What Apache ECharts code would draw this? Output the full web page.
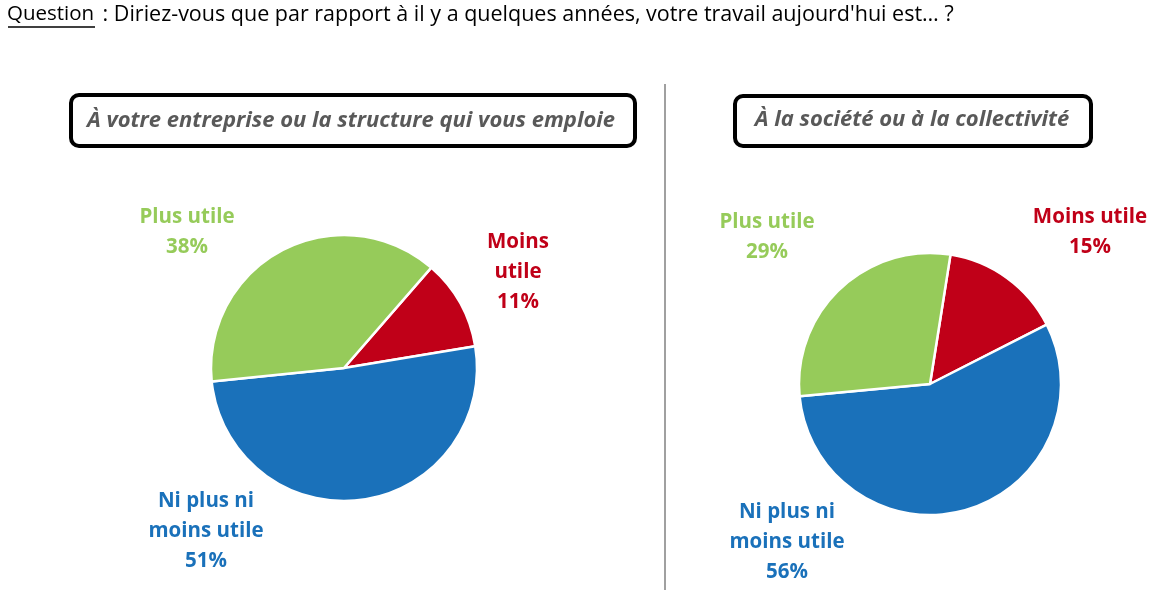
<!DOCTYPE html>
<html>
<head>
<meta charset="utf-8">
<script src="https://cdn.jsdelivr.net/npm/echarts@6/dist/echarts.min.js"></script>
<style>
  html, body { margin: 0; padding: 0; background: #fff; }
  #chart { width: 1170px; height: 590px; }
</style>
</head>
<body>
<div id="chart"></div>
<script>
var categories = ['Moins utile', 'Ni plus ni moins utile', 'Plus utile'];
var entrepriseValues = [11, 51, 38];
var societeValues = [15, 56, 29];
var leftLabels = ['Moins\nutile', 'Ni plus ni\nmoins utile', 'Plus utile'];
var rightLabels = ['Moins utile', 'Ni plus ni\nmoins utile', 'Plus utile'];
var colors = ['#C00018', '#1A71BA', '#96CB5A'];
var question = "Diriez-vous que par rapport à il y a quelques années, votre travail aujourd'hui est… ?";
var panelTitles = ['À votre entreprise ou la structure qui vous emploie', 'À la société ou à la collectivité'];

var myChart = echarts.init(document.getElementById('chart'));
var FONT = '"Open Sans", Lato, sans-serif';

function buildData(values) {
    var data = [];
    for (var i = 0; i < values.length; i++) {
        data.push({ name: categories[i], value: values[i], itemStyle: { color: colors[i] } });
    }
    return data;
}

// label anchor positions (centre of each text block)
var leftLabelPos = [[518, 272], [206, 531], [187, 232]];
var rightLabelPos = [[1090, 232], [787, 542], [767, 237]];

function makePie(values, labels, center, radius, startAngle, labelPos) {
    return {
        type: 'pie',
        center: center,
        radius: radius,
        startAngle: startAngle,
        clockwise: true,
        animation: false,
        data: buildData(values),
        itemStyle: { borderColor: '#fff', borderWidth: 2.5 },
        label: {
            show: true,
            position: 'inside',
            formatter: function (p) {
                return labels[p.dataIndex] + '\n' + p.value + '%';
            },
            color: 'inherit',
            fontFamily: FONT,
            fontWeight: 'bold',
            fontSize: 20.5,
            lineHeight: 30,
            align: 'center',
            overflow: 'none'
        },
        labelLine: { show: false },
        labelLayout: function (p) {
            var pos = labelPos[p.dataIndex];
            return { x: pos[0], y: pos[1], align: 'center', verticalAlign: 'middle' };
        },
        emphasis: { disabled: true }
    };
}

var option = {
    backgroundColor: '#fff',
    graphic: [
        {
            type: 'text', left: 7, top: 4,
            style: { text: 'Question', fontFamily: FONT, fontSize: 20.5, fill: '#000' }
        },
        {
            type: 'line', shape: { x1: 8, y1: 27, x2: 95, y2: 27 },
            style: { stroke: '#000', lineWidth: 1.3 }
        },
        {
            type: 'text', left: 97, top: 4,
            style: { text: ' : ' + question, fontFamily: FONT, fontSize: 21.5, fill: '#000' }
        },
        {
            type: 'line', shape: { x1: 665, y1: 84, x2: 665, y2: 590 },
            style: { stroke: '#808080', lineWidth: 1.5 }
        },
        {
            type: 'rect', shape: { x: 71, y: 95, width: 564, height: 51, r: 8 },
            style: { fill: '#fff', stroke: '#000', lineWidth: 4 }
        },
        {
            type: 'text', x: 351, y: 121,
            style: {
                text: panelTitles[0], fontFamily: FONT, fontSize: 22, fontWeight: 'bold',
                fontStyle: 'italic', fill: '#595959', align: 'center', verticalAlign: 'middle'
            }
        },
        {
            type: 'rect', shape: { x: 735, y: 96, width: 356, height: 50, r: 8 },
            style: { fill: '#fff', stroke: '#000', lineWidth: 4 }
        },
        {
            type: 'text', x: 912, y: 120,
            style: {
                text: panelTitles[1], fontFamily: FONT, fontSize: 22, fontWeight: 'bold',
                fontStyle: 'italic', fill: '#595959', align: 'center', verticalAlign: 'middle'
            }
        }
    ],
    series: [
        makePie(entrepriseValues, leftLabels, [344, 368], 133, 49, leftLabelPos),
        makePie(societeValues, rightLabels, [930, 384], 131, 81, rightLabelPos)
    ]
};
myChart.setOption(option);
</script>
</body>
</html>
